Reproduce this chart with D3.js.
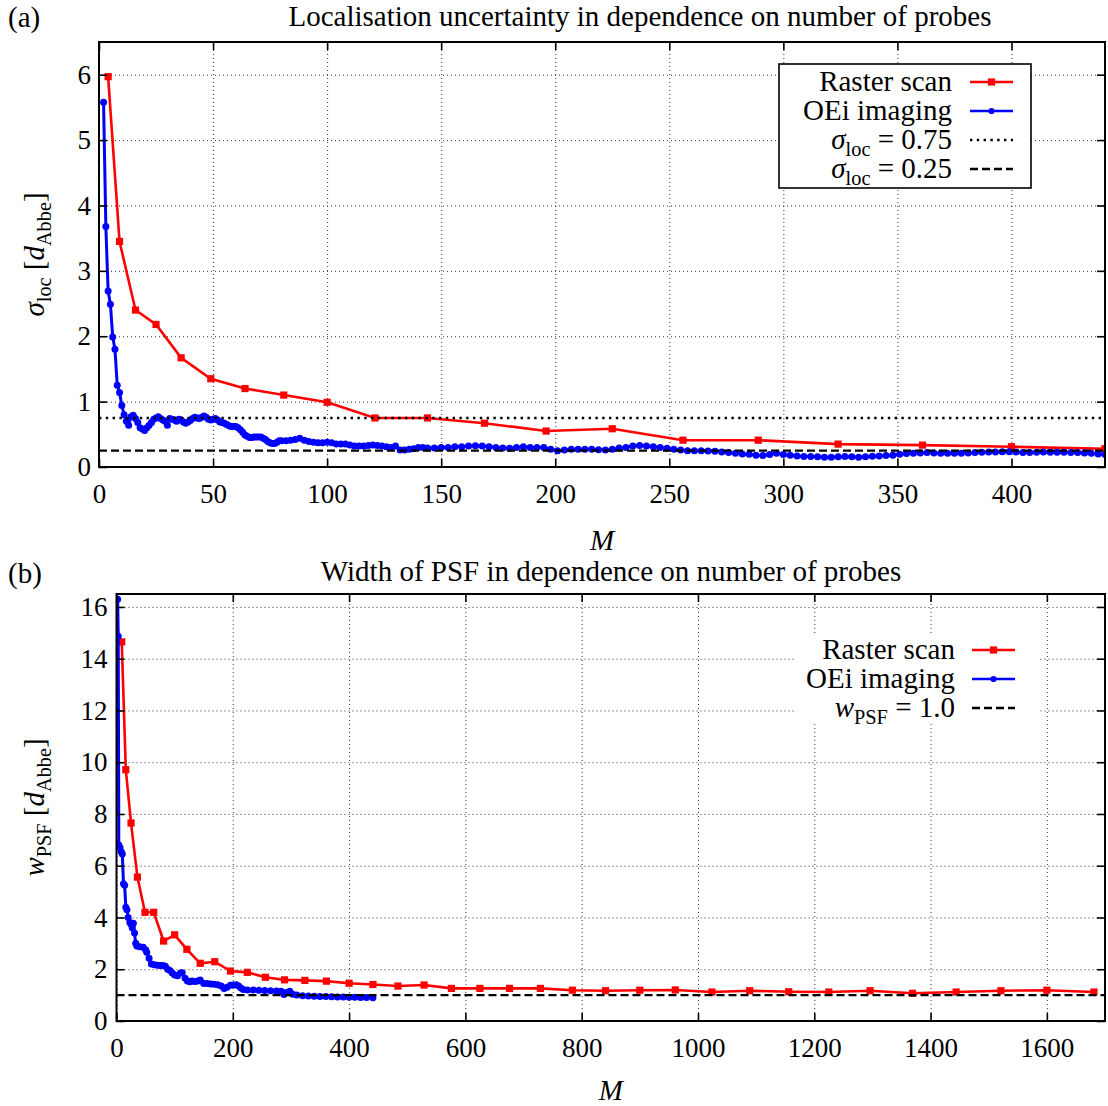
<!DOCTYPE html>
<html>
<head>
<meta charset="utf-8">
<script src="https://cdn.jsdelivr.net/npm/d3@7"></script>
<style>
  body { margin: 0; background: #fff; }
  text { font-family: "Liberation Serif", "Times New Roman", serif; }
</style>
</head>
<body>
<svg id="chart" width="1108" height="1106"></svg>
<script>
// ---- data ----
// panel (a): localisation uncertainty
var rasterTopM = [4, 9, 16, 25, 36, 49, 64, 81, 100, 121, 144, 169, 196, 225, 256, 289, 324, 361, 400, 441];
var rasterTopSigma = [5.97, 3.45, 2.40, 2.18, 1.67, 1.35, 1.20, 1.10, 0.99, 0.75, 0.75, 0.67, 0.55, 0.585, 0.41, 0.41, 0.35, 0.335, 0.31, 0.28];

var oeiTopM = [2, 3, 4, 5, 6, 7, 8, 9, 10, 11, 12, 13, 14, 15, 16, 17, 18, 19, 20, 21, 22, 23, 24, 25, 26, 27, 28, 29, 30,
  31, 32, 33, 34, 35, 36, 37, 38, 39, 40, 41, 42, 43, 44, 45, 46, 47, 48, 49, 50, 51, 52, 53, 54, 55, 56, 57, 58, 59, 60,
  61, 62, 63, 64, 65, 66, 67, 68, 69, 70, 71, 72, 73, 74, 75, 76, 77, 78, 79, 80,
  82, 84, 86, 88, 90, 92, 94, 96, 98, 100, 102, 104, 106, 108, 110, 112, 114, 116, 118, 120, 122, 124, 126, 128, 130,
  132, 134, 136, 138, 140, 142, 144, 147, 150, 153, 156, 159, 162, 165, 168, 171, 174, 177, 180, 183, 186, 189, 192, 195,
  198, 201, 204, 207, 210, 213, 216, 219, 222, 225, 228, 231, 234, 237, 240, 243, 246, 249, 252, 255, 258, 261, 264, 267,
  270, 273, 276, 279, 282, 285, 288, 291, 294, 297, 300, 303, 306, 309, 312, 315, 318, 321, 324, 327, 330, 333, 336, 339,
  342, 345, 348, 351, 354, 357, 360, 363, 366, 369, 372, 375, 378, 381, 384, 387, 390, 393, 396, 399, 402, 405, 408, 411,
  414, 417, 420, 423, 426, 429, 432, 435, 438, 441];
var oeiTopSigma = [5.58, 3.68, 2.69, 2.49, 1.99, 1.80, 1.25, 1.14, 0.94, 0.80, 0.70, 0.64, 0.77, 0.79, 0.74, 0.68, 0.60, 0.58, 0.56, 0.60, 0.64, 0.68, 0.73, 0.75, 0.77, 0.74, 0.72, 0.70, 0.64,
  0.74, 0.73, 0.72, 0.70, 0.73, 0.72, 0.69, 0.67, 0.69, 0.71, 0.74, 0.76, 0.75, 0.74, 0.76, 0.78, 0.76, 0.73, 0.72, 0.73, 0.74, 0.72, 0.69, 0.68, 0.67, 0.65, 0.63, 0.62, 0.62, 0.62,
  0.60, 0.57, 0.53, 0.49, 0.47, 0.45, 0.45, 0.46, 0.46, 0.46, 0.46, 0.44, 0.42, 0.39, 0.37, 0.36, 0.36, 0.38, 0.40, 0.40,
  0.40, 0.41, 0.42, 0.44, 0.41, 0.39, 0.38, 0.37, 0.37, 0.38, 0.37, 0.35, 0.35, 0.35, 0.335, 0.32, 0.32, 0.32, 0.33, 0.335, 0.33, 0.32, 0.31, 0.30, 0.32,
  0.26, 0.26, 0.27, 0.28, 0.30, 0.30, 0.29, 0.29, 0.30, 0.30, 0.31, 0.31, 0.32, 0.325, 0.32, 0.31, 0.30, 0.29, 0.285, 0.30, 0.31, 0.30, 0.30, 0.30,
  0.27, 0.25, 0.26, 0.27, 0.27, 0.27, 0.27, 0.265, 0.26, 0.27, 0.29, 0.30, 0.32, 0.33, 0.32, 0.31, 0.30, 0.285, 0.27, 0.26, 0.25, 0.25, 0.25, 0.245,
  0.24, 0.23, 0.22, 0.21, 0.20, 0.195, 0.18, 0.175, 0.19, 0.21, 0.19, 0.18, 0.17, 0.16, 0.16, 0.155, 0.15, 0.15, 0.155, 0.16, 0.155, 0.15, 0.155, 0.165,
  0.17, 0.175, 0.18, 0.195, 0.205, 0.21, 0.215, 0.22, 0.215, 0.21, 0.21, 0.21, 0.21, 0.215, 0.22, 0.225, 0.23, 0.23, 0.235, 0.235, 0.23, 0.22, 0.22, 0.225,
  0.23, 0.225, 0.225, 0.225, 0.22, 0.22, 0.215, 0.21, 0.20, 0.19];

var sigmaRefs = [0.75, 0.25];

// panel (b): width of PSF
var rasterBotM = [9, 16, 25, 36, 49, 64, 81, 100, 121, 144, 169, 196, 225, 256, 289, 324, 361, 400, 441, 484,
  529, 576, 625, 676, 729, 784, 841, 900, 961, 1024, 1089, 1156, 1225, 1296, 1369, 1444, 1521, 1600, 1681];
var rasterBotW = [14.65, 9.71, 7.65, 5.56, 4.2, 4.2, 3.09, 3.33, 2.77, 2.23, 2.29, 1.93, 1.88, 1.69, 1.59, 1.57, 1.54, 1.46, 1.41, 1.35,
  1.39, 1.26, 1.26, 1.26, 1.26, 1.19, 1.17, 1.19, 1.2, 1.12, 1.17, 1.13, 1.12, 1.17, 1.07, 1.12, 1.17, 1.19, 1.12];

var oeiBotM = [2, 3, 4, 6, 8, 10, 12, 14, 16, 18, 20, 23, 25, 27, 29, 31, 33, 35, 40, 46, 50, 52, 56, 60, 65, 70, 75, 80, 84, 88,
  92, 96, 100, 105, 110, 113, 118, 122, 126, 130, 135, 140, 144, 150, 156, 162, 168, 174, 180, 185, 190, 196, 201, 206, 210,
  214, 218, 225, 235, 245, 255, 265, 275, 283, 288, 292, 298, 303, 310, 320, 330, 340, 350, 360, 370, 380, 390, 400, 410,
  420, 430, 441];
var oeiBotW = [16.3, 14.87, 6.8, 6.7, 6.55, 6.45, 5.3, 5.25, 4.4, 4.3, 4.0, 3.81, 3.75, 3.6, 3.78, 3.4, 3.0, 2.9, 2.87, 2.85, 2.75, 2.66, 2.42, 2.2, 2.17, 2.15, 2.14, 2.14, 2.12, 2.0,
  1.95, 1.85, 1.78, 1.75, 1.85, 1.86, 1.65, 1.55, 1.52, 1.55, 1.53, 1.55, 1.58, 1.45, 1.45, 1.43, 1.42, 1.40, 1.35, 1.26, 1.3, 1.38, 1.39, 1.40, 1.35,
  1.28, 1.22, 1.2, 1.2, 1.19, 1.18, 1.17, 1.16, 1.15, 1.02, 1.1, 1.15, 1.03, 1.0, 0.98, 0.97, 0.96, 0.95, 0.95, 0.94, 0.93, 0.93, 0.92, 0.92,
  0.91, 0.91, 0.9];

var wRefs = [1.0];

var topXTicks = [0, 50, 100, 150, 200, 250, 300, 350, 400];
var topYTicks = [0, 1, 2, 3, 4, 5, 6];
var botXTicks = [0, 200, 400, 600, 800, 1000, 1200, 1400, 1600];
var botYTicks = [0, 2, 4, 6, 8, 10, 12, 14, 16];

var RED = "#ff0000", BLUE = "#0000ff";
var FONT = '"Liberation Serif", "Times New Roman", serif';
var TICK_FS = 27, TEXT_FS = 29;

var svg = d3.select("#chart");

// writes a mix of italic / subscript pieces into a text element
function rich(sel, parts, size) {
    var inSub = false;
    parts.forEach(function (p) {
        var ts = sel.append("tspan").text(p.t);
        if (p.i) ts.style("font-style", "italic");
        if (p.sub) ts.style("font-size", (size * 0.7) + "px");
        if (p.sub && !inSub) ts.attr("dy", size * 0.25);
        if (!p.sub && inSub) ts.attr("dy", -size * 0.25);
        inSub = !!p.sub;
    });
}

function zip(a, b) {
    return a.map(function (v, i) { return [v, b[i]]; });
}

function panel(cfg) {
    var g = svg.append("g");
    var x = d3.scaleLinear().domain(cfg.xDomain).range([cfg.left, cfg.right]);
    var y = d3.scaleLinear().domain(cfg.yDomain).range([cfg.bottom, cfg.top]);
    var h = cfg.bottom - cfg.top, w = cfg.right - cfg.left;
    var fmt = d3.format("d");

    var clipId = "clip" + cfg.name;
    svg.append("clipPath").attr("id", clipId).append("rect")
        .attr("x", cfg.left).attr("y", cfg.top).attr("width", w).attr("height", h);

    // grid
    function styleGrid(s) {
        s.select(".domain").remove();
        s.selectAll("line").attr("stroke", "#333").attr("stroke-width", 1).attr("stroke-dasharray", "1,3");
    }
    g.append("g").attr("transform", "translate(0," + cfg.bottom + ")")
        .call(d3.axisBottom(x).tickValues(cfg.xTicks).tickSize(-h).tickFormat(""))
        .call(styleGrid);
    g.append("g").attr("transform", "translate(" + cfg.left + ",0)")
        .call(d3.axisLeft(y).tickValues(cfg.yTicks).tickSize(-w).tickFormat(""))
        .call(styleGrid);

    var data = g.append("g").attr("clip-path", "url(#" + clipId + ")");
    var line = d3.line().x(function (d) { return x(d[0]); }).y(function (d) { return y(d[1]); });

    // raster scan
    var rs = zip(cfg.rasterM, cfg.rasterV);
    data.append("path").attr("d", line(rs)).attr("fill", "none")
        .attr("stroke", RED).attr("stroke-width", 2.6);
    data.selectAll("rect.rs").data(rs).enter().append("rect").attr("class", "rs")
        .attr("x", function (d) { return x(d[0]) - 3.6; })
        .attr("y", function (d) { return y(d[1]) - 3.6; })
        .attr("width", 7.2).attr("height", 7.2).attr("fill", RED);

    // OEi imaging
    var oe = zip(cfg.oeiM, cfg.oeiV);
    data.append("path").attr("d", line(oe)).attr("fill", "none")
        .attr("stroke", BLUE).attr("stroke-width", 3);
    data.selectAll("circle.oe").data(oe).enter().append("circle").attr("class", "oe")
        .attr("cx", function (d) { return x(d[0]); })
        .attr("cy", function (d) { return y(d[1]); })
        .attr("r", 3.5).attr("fill", BLUE);

    // reference levels
    cfg.refs.forEach(function (r) {
        data.append("line")
            .attr("x1", cfg.left).attr("x2", cfg.right)
            .attr("y1", y(r.v)).attr("y2", y(r.v))
            .attr("stroke", "#000").attr("stroke-width", 2.4)
            .attr("stroke-dasharray", r.dash);
    });

    // ticks and labels
    function styleAxis(s) {
        s.select(".domain").remove();
        s.selectAll("line").attr("stroke", "#000").attr("stroke-width", 1.6);
        s.attr("font-family", FONT).attr("font-size", TICK_FS);
        s.selectAll("text").style("font-family", FONT).style("font-size", TICK_FS + "px");
    }
    g.append("g").attr("transform", "translate(0," + cfg.bottom + ")")
        .call(d3.axisBottom(x).tickValues(cfg.xTicks).tickFormat(fmt).tickSize(-8).tickPadding(cfg.xPad)).call(styleAxis);
    g.append("g").attr("transform", "translate(0," + cfg.top + ")")
        .call(d3.axisTop(x).tickValues(cfg.xTicks).tickSize(-8).tickFormat("")).call(styleAxis);
    g.append("g").attr("transform", "translate(" + cfg.left + ",0)")
        .call(d3.axisLeft(y).tickValues(cfg.yTicks).tickFormat(fmt).tickSize(-8).tickPadding(cfg.yPad)).call(styleAxis);
    g.append("g").attr("transform", "translate(" + cfg.right + ",0)")
        .call(d3.axisRight(y).tickValues(cfg.yTicks).tickSize(-8).tickFormat("")).call(styleAxis);

    // frame
    g.append("rect").attr("x", cfg.left).attr("y", cfg.top).attr("width", w).attr("height", h)
        .attr("fill", "none").attr("stroke", "#000").attr("stroke-width", 2);

    // titles
    g.append("text").attr("x", 8).attr("y", cfg.tagY).attr("font-size", TEXT_FS).text(cfg.tag);
    g.append("text").attr("x", cfg.titleX).attr("y", cfg.titleY).attr("text-anchor", "middle")
        .attr("font-size", TEXT_FS).text(cfg.title);
    g.append("text").attr("x", (cfg.left + cfg.right) / 2).attr("y", cfg.xLabelY).attr("text-anchor", "middle")
        .attr("font-size", TEXT_FS).style("font-style", "italic").text("M");
    var yl = g.append("text").attr("text-anchor", "middle").attr("font-size", TEXT_FS)
        .attr("transform", "translate(44," + ((cfg.top + cfg.bottom) / 2) + ") rotate(-90)");
    rich(yl, cfg.yLabel, TEXT_FS);

    // legend
    var lg = cfg.legend;
    var box = g.append("rect").attr("x", lg.x0).attr("y", lg.y0).attr("width", lg.x1 - lg.x0)
        .attr("height", lg.y1 - lg.y0).attr("fill", "#fff");
    if (lg.border) box.attr("stroke", "#000").attr("stroke-width", 1.6);
    lg.rows.forEach(function (row, i) {
        var ry = lg.rowY + i * lg.rowH;
        var t = g.append("text").attr("x", lg.textX).attr("y", ry + 9).attr("text-anchor", "end")
            .attr("font-size", TEXT_FS);
        rich(t, row.label, TEXT_FS);
        var ln = g.append("line").attr("x1", lg.sx0).attr("x2", lg.sx1).attr("y1", ry).attr("y2", ry)
            .attr("stroke", row.color).attr("stroke-width", row.dash ? 2.4 : 2.6);
        if (row.dash) ln.attr("stroke-dasharray", row.dash);
        var mx = (lg.sx0 + lg.sx1) / 2;
        if (row.marker === "square") {
            g.append("rect").attr("x", mx - 3.6).attr("y", ry - 3.6).attr("width", 7.2).attr("height", 7.2).attr("fill", row.color);
        } else if (row.marker === "circle") {
            g.append("circle").attr("cx", mx).attr("cy", ry).attr("r", 3.1).attr("fill", row.color);
        }
    });
}

var DOTTED = "2.4,4.4", DASHED = "8,4";

panel({
    name: "a",
    xDomain: [0, 441], yDomain: [0, 6.5],
    left: 99, right: 1105, top: 42, bottom: 467,
    xTicks: topXTicks, yTicks: topYTicks, xPad: 17, yPad: 8,
    rasterM: rasterTopM, rasterV: rasterTopSigma,
    oeiM: oeiTopM, oeiV: oeiTopSigma,
    refs: [{ v: sigmaRefs[0], dash: DOTTED }, { v: sigmaRefs[1], dash: DASHED }],
    tag: "(a)", tagY: 27,
    title: "Localisation uncertainty in dependence on number of probes", titleX: 640, titleY: 26,
    xLabelY: 550,
    yLabel: [{ t: "σ", i: true }, { t: "loc", sub: true }, { t: " [" }, { t: "d", i: true }, { t: "Abbe", sub: true }, { t: "]" }],
    legend: {
        x0: 779, x1: 1031, y0: 64, y1: 188, border: true,
        textX: 952, sx0: 970, sx1: 1013, rowY: 82, rowH: 29,
        rows: [
            { label: [{ t: "Raster scan" }], color: RED, marker: "square" },
            { label: [{ t: "OEi imaging" }], color: BLUE, marker: "circle" },
            { label: [{ t: "σ", i: true }, { t: "loc", sub: true }, { t: " = 0.75" }], color: "#000", dash: DOTTED },
            { label: [{ t: "σ", i: true }, { t: "loc", sub: true }, { t: " = 0.25" }], color: "#000", dash: DASHED }
        ]
    }
});

panel({
    name: "b",
    xDomain: [0, 1700], yDomain: [0, 16.5],
    left: 116.5, right: 1105, top: 594, bottom: 1021,
    xTicks: botXTicks, yTicks: botYTicks, xPad: 17, yPad: 9,
    rasterM: rasterBotM, rasterV: rasterBotW,
    oeiM: oeiBotM, oeiV: oeiBotW,
    refs: [{ v: wRefs[0], dash: DASHED }],
    tag: "(b)", tagY: 583,
    title: "Width of PSF in dependence on number of probes", titleX: 611, titleY: 581,
    xLabelY: 1100,
    yLabel: [{ t: "w", i: true }, { t: "PSF", sub: true }, { t: " [" }, { t: "d", i: true }, { t: "Abbe", sub: true }, { t: "]" }],
    legend: {
        x0: 795, x1: 1040, y0: 634, y1: 722, border: false,
        textX: 955, sx0: 972, sx1: 1015, rowY: 650, rowH: 29,
        rows: [
            { label: [{ t: "Raster scan" }], color: RED, marker: "square" },
            { label: [{ t: "OEi imaging" }], color: BLUE, marker: "circle" },
            { label: [{ t: "w", i: true }, { t: "PSF", sub: true }, { t: " = 1.0" }], color: "#000", dash: DASHED }
        ]
    }
});
</script>
</body>
</html>
